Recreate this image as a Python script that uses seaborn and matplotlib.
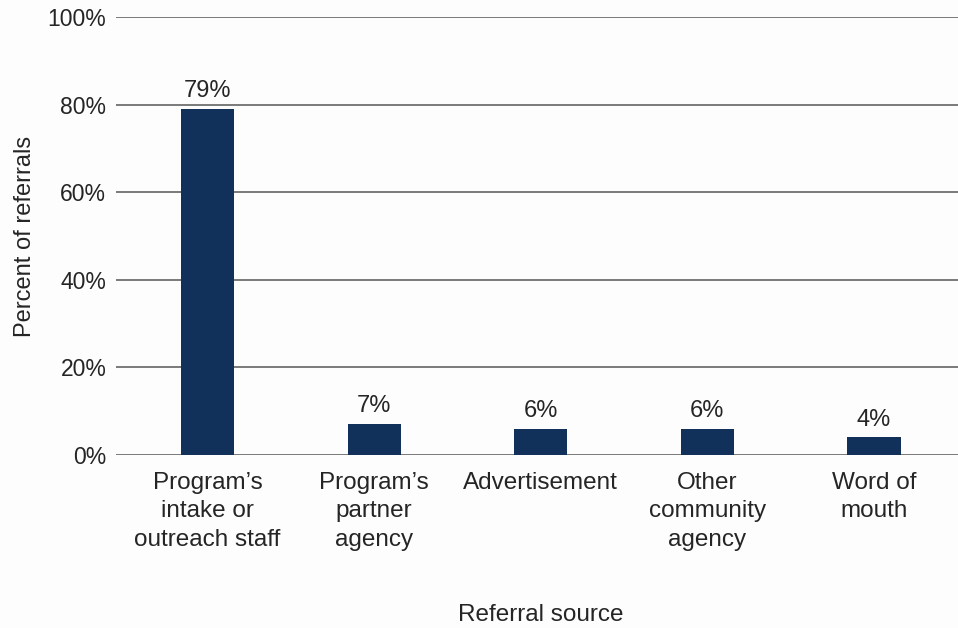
import matplotlib
matplotlib.use("Agg")
import matplotlib.pyplot as plt
from matplotlib.ticker import FuncFormatter
import seaborn as sns
import pandas as pd

# Referral sources and their share of all referrals (%)
categories = [
    "Program\u2019s\nintake or\noutreach staff",
    "Program\u2019s\npartner\nagency",
    "Advertisement",
    "Other\ncommunity\nagency",
    "Word of\nmouth",
]
percent = [79, 7, 6, 6, 4]
y_ticks = [0, 20, 40, 60, 80, 100]

df = pd.DataFrame({"source": categories, "percent": percent})

sns.set_theme(style="white")
plt.rcParams["font.family"] = ["Liberation Sans", "DejaVu Sans"]

text_color = "#252525"
bar_color = "#12315a"
grid_color = "#7a7a7a"

fig = plt.figure(figsize=(9.58, 6.28), dpi=100, facecolor="#fdfdfd")
ax = fig.add_axes([116 / 958, (628 - 455) / 628, (958 - 116) / 958, (455 - 17) / 628])
ax.set_facecolor("#fdfdfd")

sns.barplot(data=df, x="source", y="percent", color=bar_color, width=0.32,
            saturation=1, linewidth=0, ax=ax, zorder=3)

ax.set_ylim(0, 100)
ax.set_xlim(-0.55, 4.505)
ax.set_yticks(y_ticks)
ax.yaxis.set_major_formatter(FuncFormatter(lambda v, _: f"{v:.0f}%"))
ax.grid(axis="y", color=grid_color, linewidth=1.4, zorder=0)
ax.grid(axis="x", visible=False)
for s in ax.spines.values():
    s.set_visible(False)

ax.tick_params(axis="y", length=0, pad=7, labelsize=16.5, labelcolor=text_color)
ax.tick_params(axis="x", length=0, pad=12, labelsize=17.5, labelcolor=text_color)
for lbl in ax.get_xticklabels():
    lbl.set_linespacing(1.4)

# Value labels above each bar
for container in ax.containers:
    ax.bar_label(container, labels=[f"{v:.0f}%" for v in percent],
                 padding=5, fontsize=17, color=text_color)

ax.set_xlabel("")
ax.set_ylabel("Percent of referrals", fontsize=17, color=text_color, labelpad=8)
fig.text(541 / 958, 1 - 615 / 628, "Referral source", ha="center", va="center",
         fontsize=17.5, color=text_color)

fig.savefig("out.png", dpi=100, facecolor=fig.get_facecolor())
